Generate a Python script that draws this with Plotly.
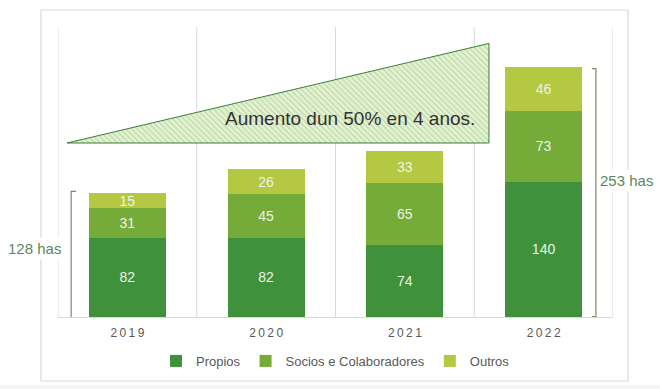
import plotly.graph_objects as go

years = ["2019", "2020", "2021", "2022"]
propios = [82, 82, 74, 140]
socios = [31, 45, 65, 73]
outros = [15, 26, 33, 46]
series_names = ["Propios", "Socios e Colaboradores", "Outros"]
colors = ["#3f913b", "#75ab39", "#b4c841"]
label_color = "#eef3e6"

# triangle annotation (data coordinates)
tri_x = [-0.435, 2.606, 2.606, -0.435]
tri_y = [180, 283, 180, 180]
tri_text = "Aumento dun 50% en 4 anos."

bracket_left = {"x": -0.405, "hook": -0.37, "y0": -5.5, "y1": 130, "label": "128 has", "lx": -0.0423, "ly": 71}
bracket_right = {"x": 3.377, "hook": 3.349, "y0": 0.5, "y1": 257, "label": "253 has", "lx": 1.025, "ly": 141}

FONT = "Liberation Sans, Arial, sans-serif"
pos = list(range(len(years)))
tick_text = ["\u2009".join(list(y)) for y in years]

fig = go.Figure()
for name, vals, col in zip(series_names, [propios, socios, outros], colors):
    fig.add_trace(go.Bar(
        x=pos, y=vals, name=name, marker=dict(color=col, line=dict(width=0)),
        text=[str(v) for v in vals], textposition="inside", insidetextanchor="middle",
        constraintext="none", textangle=0,
        textfont=dict(color=label_color, size=14, family=FONT),
        hoverinfo="skip",
    ))

fig.add_trace(go.Scatter(
    x=tri_x, y=tri_y, mode="lines", fill="toself",
    line=dict(color="#3d7d3b", width=1),
    fillcolor="#e3f0d4",
    fillpattern=dict(shape="\\", fgcolor="#93c46e", bgcolor="#e6f2d8", size=4, solidity=0.35),
    showlegend=False, hoverinfo="skip",
))

shapes = []
# outer frame
shapes.append(dict(type="rect", xref="paper", yref="paper", x0=-0.0306, x1=1.027, y0=-0.2207, y1=1.0586,
                   line=dict(color="#d9d9d9", width=1.2), fillcolor="rgba(0,0,0,0)", layer="below"))
# bottom strip
shapes.append(dict(type="rect", xref="paper", yref="paper", x0=-0.11, x1=1.09, y0=-0.26, y1=-0.2345,
                   line=dict(width=0), fillcolor="#f3f3f3", layer="below"))
# vertical grid at category boundaries
for i in range(len(years) + 1):
    shapes.append(dict(type="line", xref="x", yref="paper", x0=i - 0.5, x1=i - 0.5, y0=0, y1=1,
                       line=dict(color="#d9d9d9", width=1), layer="below"))
# brackets
for b in [bracket_left, bracket_right]:
    shapes.append(dict(type="path", xref="x", yref="y",
                       path=f"M {b['hook']} {b['y1']} L {b['x']} {b['y1']} L {b['x']} {b['y0']} L {b['hook']} {b['y0']}",
                       line=dict(color="#7b8b6a", width=1.2)))

annotations = [
    dict(x=1.604, y=205.5, xref="x", yref="y", text=tri_text, showarrow=False,
         font=dict(size=19, color="#333333", family=FONT)),
]
for b in [bracket_left, bracket_right]:
    annotations.append(dict(x=b["lx"], y=b["ly"], xref="paper", yref="y", text=b["label"], showarrow=False,
                            xanchor="center", yanchor="middle",
                            bgcolor="white", borderpad=2,
                            font=dict(size=15, color="#5d875a", family=FONT)))

fig.update_layout(
    width=660, height=389,
    margin=dict(l=58, r=47, t=27, b=72),
    paper_bgcolor="white", plot_bgcolor="white",
    barmode="stack", bargap=0.445,
    font=dict(family=FONT, color="#595959"),
    xaxis=dict(range=[-0.5, 3.5], tickvals=pos, ticktext=tick_text, showgrid=False, zeroline=False,
               showline=True, linecolor="#d9d9d9", linewidth=1, ticks="", ticklabelstandoff=5,
               tickfont=dict(size=12, color="#595959", family=FONT)),
    yaxis=dict(range=[0, 300], visible=False, showgrid=False, zeroline=False),
    legend=dict(orientation="h", x=0.5, xanchor="center", y=-0.1, yanchor="top",
                font=dict(size=13, color="#595959", family=FONT), itemwidth=30,
                traceorder="normal"),
    shapes=shapes, annotations=annotations,
)

fig.write_html("out.html")
